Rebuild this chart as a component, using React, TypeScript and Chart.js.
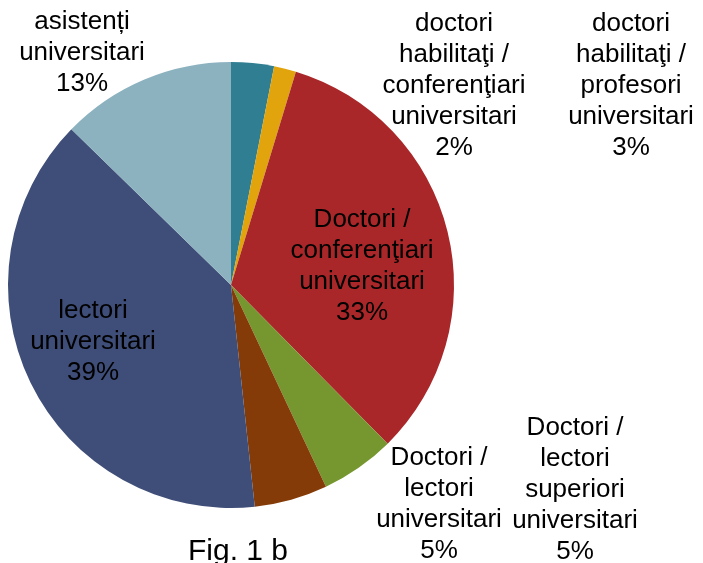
import React, { useEffect, useRef } from "react";
import { Chart, registerables } from "chart.js";

Chart.register(...registerables);

const categories: string[][] = [
  ["doctori", "habilitaţi /", "profesori", "universitari"],
  ["doctori", "habilitaţi /", "conferenţiari", "universitari"],
  ["Doctori /", "conferenţiari", "universitari"],
  ["Doctori /", "lectori", "universitari"],
  ["Doctori /", "lectori", "superiori", "universitari"],
  ["lectori", "universitari"],
  ["asistenți", "universitari"],
];

const shares: number[] = [3.1, 1.6, 32.9, 5.4, 5.3, 39.0, 12.7];

const colors: string[] = [
  "#2F7E91",
  "#E1A40C",
  "#AA2729",
  "#76962F",
  "#843B07",
  "#3F4E78",
  "#8CB2C0",
];

// label anchor: offset from pie centre (x centre, baseline of first line)
const labelLayout: { dx: number; dy: number }[] = [
  { dx: 400, dy: -254 },
  { dx: 223, dy: -254 },
  { dx: 131, dy: -58 },
  { dx: 208, dy: 180 },
  { dx: 344, dy: 150 },
  { dx: -138, dy: 33 },
  { dx: -149, dy: -256 },
];

const LINE_H = 31;
const FONT = '26px "Liberation Sans", Arial, sans-serif';

const labelPlugin = {
  id: "sliceLabels",
  afterDraw(chart: any) {
    const ctx = chart.ctx;
    const meta = chart.getDatasetMeta(0);
    const data = chart.data.datasets[0].data as number[];
    const total = data.reduce((a, b) => a + b, 0);
    ctx.save();
    ctx.font = FONT;
    ctx.fillStyle = "#000000";
    ctx.textAlign = "center";
    ctx.textBaseline = "alphabetic";
    meta.data.forEach((arc: any, i: number) => {
      const lines = [...(chart.data.labels[i] as string[]), Math.round((data[i] / total) * 100) + "%"];
      const lay = labelLayout[i];
      const x = arc.x + lay.dx;
      const y0 = arc.y + lay.dy;
      lines.forEach((ln, k) => ctx.fillText(ln, x, y0 + k * LINE_H));
    });
    ctx.restore();
  },
};

const captionPlugin = {
  id: "caption",
  afterDraw(chart: any) {
    const ctx = chart.ctx;
    ctx.save();
    ctx.font = '30px "Liberation Sans", Arial, sans-serif';
    ctx.fillStyle = "#000000";
    ctx.textAlign = "center";
    ctx.textBaseline = "alphabetic";
    ctx.fillText("Fig. 1 b", 238, 560);
    ctx.restore();
  },
};

export default function App() {
  const ref = useRef<HTMLCanvasElement | null>(null);
  useEffect(() => {
    document.body.style.margin = "0";
    if (!ref.current) return;
    const chart = new Chart(ref.current, {
      type: "pie",
      data: {
        labels: categories as any,
        datasets: [
          {
            data: shares,
            backgroundColor: colors,
            borderWidth: 0,
          },
        ],
      },
      options: {
        animation: false,
        responsive: false,
        maintainAspectRatio: false,
        layout: { padding: { left: 8, top: 62, right: 249, bottom: 55 } },
        plugins: {
          legend: { display: false },
          tooltip: { enabled: false },
          title: { display: false },
        },
      },
      plugins: [labelPlugin, captionPlugin],
    });
    return () => chart.destroy();
  }, []);
  return (
    <div style={{ position: "absolute", left: 0, top: 0, width: 703, height: 563, background: "#fff" }}>
      <canvas ref={ref} width={703} height={563} style={{ width: 703, height: 563, display: "block" }} />
    </div>
  );
}
